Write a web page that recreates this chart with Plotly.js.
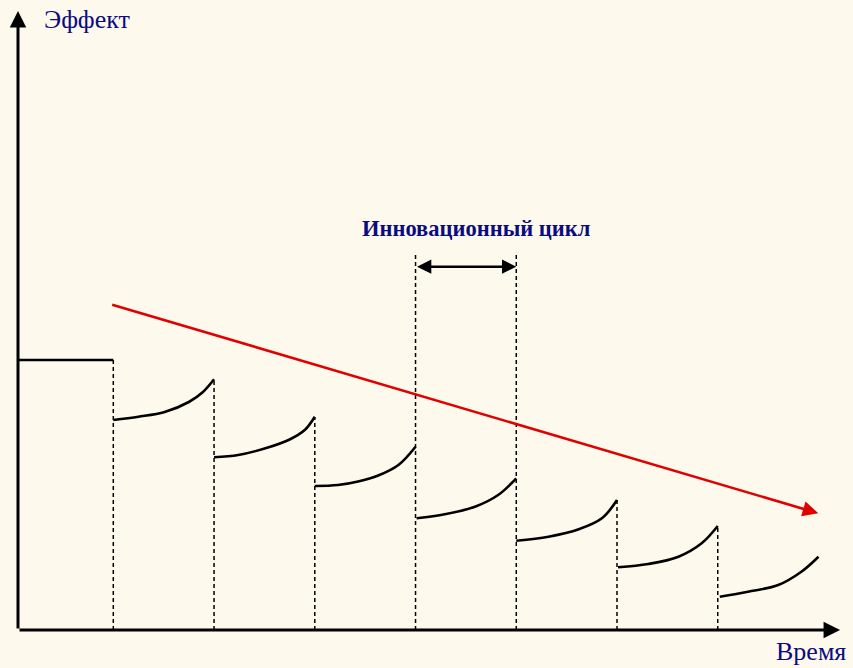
<!DOCTYPE html>
<html>
<head>
<meta charset="utf-8">
<script src="https://cdn.plot.ly/plotly-3.0.1.min.js"></script>
<style>html,body{margin:0;padding:0;background:#FDF9ED;}#chart{width:853px;height:668px;}</style>
</head>
<body>
<div id="chart"></div>
<script>
// ---- data (time in innovation-cycle units, effect in arbitrary units) ----
const labelEffect = "Эффект";
const labelTime = "Время";
const labelCycle = "Инновационный цикл";

const initialT = [0.054, 1.0];
const initialE = [27.0, 27.0];

const cycle1T = [1.00, 1.25, 1.51, 1.75, 1.89, 2.00];
const cycle1E = [21.0, 21.33, 21.8, 22.8, 23.8, 25.07];
const cycle2T = [2.00, 2.24, 2.51, 2.74, 2.90, 3.00];
const cycle2E = [17.27, 17.5, 18.17, 19.0, 20.0, 21.33];
const cycle3T = [3.00, 3.23, 3.43, 3.63, 3.83, 4.00];
const cycle3E = [14.4, 14.5, 14.85, 15.45, 16.5, 18.33];
const cycle4T = [4.01, 4.29, 4.59, 4.82, 5.00];
const cycle4E = [11.17, 11.57, 12.33, 13.5, 15.17];
const cycle5T = [5.00, 5.32, 5.62, 5.85, 6.00];
const cycle5E = [8.93, 9.33, 10.07, 11.17, 13.0];
const cycle6T = [6.01, 6.31, 6.61, 6.84, 7.00];
const cycle6E = [6.27, 6.6, 7.33, 8.67, 10.4];
const cycle7T = [7.02, 7.30, 7.60, 7.83, 8.00];
const cycle7E = [3.33, 3.83, 4.5, 5.83, 7.33];

const boundaryT = [1, 2, 3, 4, 5, 6, 7];
const boundaryTopE = [27.0, 25.1, 21.3, 37.8, 37.8, 13.0, 10.4];

const trendT = [0.974, 7.998];
const trendE = [32.57, 11.67];

const cycleSpanT = [4.0, 5.0];
const cycleSpanE = 36.33;

const axisOriginT = 0.054;
const axisEndT = 8.214;
const axisTopE = 61.9;

// ---- traces ----
const curves = [[cycle1T,cycle1E],[cycle2T,cycle2E],[cycle3T,cycle3E],[cycle4T,cycle4E],
                [cycle5T,cycle5E],[cycle6T,cycle6E],[cycle7T,cycle7E]];
const traces = [];
traces.push({x: initialT, y: initialE, mode: 'lines', line: {color: '#000', width: 2.5}, hoverinfo: 'skip'});
curves.forEach(c => traces.push({x: c[0], y: c[1], mode: 'lines',
  line: {color: '#000', width: 2.6, shape: 'spline', smoothing: 1.0}, hoverinfo: 'skip'}));

const dx = [], dy = [];
boundaryT.forEach((t, i) => { dx.push(t, t, null); dy.push(0, boundaryTopE[i], null); });
traces.push({x: dx, y: dy, mode: 'lines', line: {color: '#000', width: 1.5, dash: '4px,3px'}, hoverinfo: 'skip'});

const txtFont = {family: 'Liberation Serif, Times New Roman, serif', color: '#0B0B80'};

const annotations = [
  // y axis
  {x: axisOriginT, y: axisTopE, ax: axisOriginT, ay: 0, xref: 'x', yref: 'y', axref: 'x', ayref: 'y',
   text: '', showarrow: true, arrowhead: 2, arrowsize: 1.1, arrowwidth: 3, arrowcolor: '#000'},
  // x axis
  {x: axisEndT, y: 0, ax: axisOriginT, ay: 0, xref: 'x', yref: 'y', axref: 'x', ayref: 'y',
   text: '', showarrow: true, arrowhead: 2, arrowsize: 1.1, arrowwidth: 3, arrowcolor: '#000'},
  // trend
  {x: trendT[1], y: trendE[1], ax: trendT[0], ay: trendE[0], xref: 'x', yref: 'y', axref: 'x', ayref: 'y',
   text: '', showarrow: true, arrowhead: 2, arrowsize: 1.2, arrowwidth: 2.6, arrowcolor: '#E00000'},
  // innovation cycle span
  {x: cycleSpanT[1], y: cycleSpanE, ax: cycleSpanT[0], ay: cycleSpanE, xref: 'x', yref: 'y', axref: 'x', ayref: 'y',
   text: '', showarrow: true, arrowhead: 2, startarrowhead: 2, arrowside: 'end+start', arrowsize: 1.1, arrowwidth: 2.6, arrowcolor: '#000'},
  {x: 42/853, y: 1 - 19/668, xref: 'paper', yref: 'paper', xanchor: 'left', yanchor: 'middle',
   text: labelEffect, showarrow: false, font: Object.assign({size: 26}, txtFont)},
  {x: 848/853, y: 1 - 651/668, xref: 'paper', yref: 'paper', xanchor: 'right', yanchor: 'middle',
   text: labelTime, showarrow: false, font: Object.assign({size: 26}, txtFont)},
  {x: 476.7/853, y: 1 - 228/668, xref: 'paper', yref: 'paper', xanchor: 'center', yanchor: 'middle',
   text: '<b>' + labelCycle + '</b>', showarrow: false, font: Object.assign({size: 22.5}, txtFont)}
];

const layout = {
  width: 853, height: 668,
  margin: {l: 0, r: 0, t: 0, b: 0},
  paper_bgcolor: '#FDF9ED', plot_bgcolor: '#FDF9ED',
  showlegend: false,
  xaxis: {range: [-0.1247, 8.3425], visible: false, fixedrange: true},
  yaxis: {range: [-3.8, 63.0], visible: false, fixedrange: true},
  annotations: annotations
};

Plotly.newPlot('chart', traces, layout, {displayModeBar: false, staticPlot: true});
</script>
</body>
</html>
